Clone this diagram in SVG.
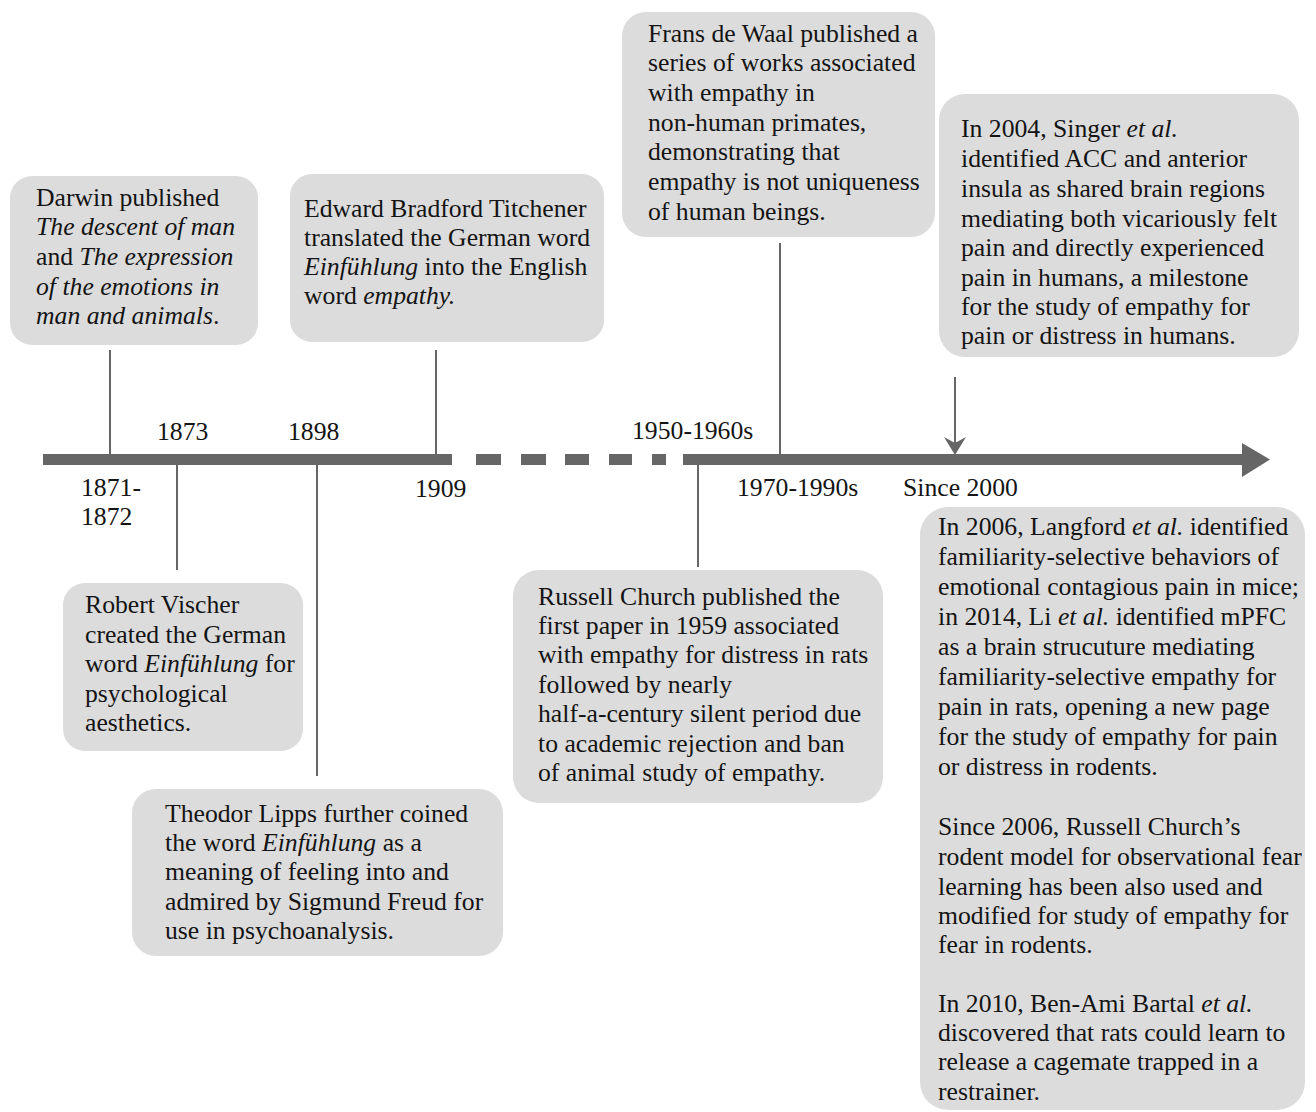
<svg xmlns="http://www.w3.org/2000/svg" width="1316" height="1112" viewBox="0 0 1316 1112">
<style>
.box{fill:#dcdcdc;}
.t{font-family:"Liberation Serif","Times New Roman",serif;font-size:25.7px;fill:#141414;}
.i{font-style:italic;}
.ln{stroke:#666;stroke-width:2;fill:none;}
.bar{fill:#666;}
</style>
<rect width="1316" height="1112" fill="#fff"/>
<g id="connectors">
<rect class="bar" x="43" y="454" width="409" height="11"/>
<rect class="bar" x="476" y="454" width="25" height="11"/>
<rect class="bar" x="521" y="454" width="25" height="11"/>
<rect class="bar" x="565" y="454" width="24" height="11"/>
<rect class="bar" x="609" y="454" width="23" height="11"/>
<rect class="bar" x="652" y="454" width="14" height="11"/>
<rect class="bar" x="683" y="454" width="562" height="11"/>
<polygon class="bar" points="1242,443 1270,459.5 1242,477"/>
<line class="ln" x1="110" y1="350" x2="110" y2="454"/>
<line class="ln" x1="436" y1="350" x2="436" y2="454"/>
<line class="ln" x1="177" y1="465" x2="177" y2="570"/>
<line class="ln" x1="317" y1="465" x2="317" y2="776"/>
<line class="ln" x1="698" y1="465" x2="698" y2="567"/>
<line class="ln" x1="780" y1="243" x2="780" y2="454"/>
<line class="ln" x1="955" y1="377" x2="955" y2="446"/>
<path d="M955,455 L944,437 L955,443 L966,437 Z" fill="#666"/>
</g>
<g id="labels">
<text class="t" x="157" y="440">1873</text>
<text class="t" x="288" y="440">1898</text>
<text class="t" x="632" y="439">1950-1960s</text>
<text class="t" x="81" y="496">1871-</text>
<text class="t" x="81" y="525">1872</text>
<text class="t" x="415" y="497">1909</text>
<text class="t" x="737" y="496">1970-1990s</text>
<text class="t" x="903" y="496">Since 2000</text>
</g>
<g id="darwin">
<rect class="box" x="10" y="176" width="248" height="169" rx="22"/>
<text class="t"><tspan x="36" y="206">Darwin published</tspan><tspan x="36" y="235" class="i">The descent of man</tspan><tspan x="36" y="265">and <tspan class="i">The expression</tspan></tspan><tspan x="36" y="295" class="i">of the emotions in</tspan><tspan x="36" y="324"><tspan class="i">man and animals</tspan>.</tspan></text>
</g>
<g id="titchener">
<rect class="box" x="290" y="174" width="314" height="168" rx="22"/>
<text class="t"><tspan x="304" y="217">Edward Bradford Titchener</tspan><tspan x="304" y="246">translated the German word</tspan><tspan x="304" y="275"><tspan class="i">Einfühlung</tspan> into the English</tspan><tspan x="304" y="304">word <tspan class="i">empathy.</tspan></tspan></text>
</g>
<g id="frans">
<rect class="box" x="622" y="12" width="313" height="225" rx="24"/>
<text class="t"><tspan x="648" y="42">Frans de Waal published a</tspan><tspan x="648" y="71">series of works associated</tspan><tspan x="648" y="101">with empathy in</tspan><tspan x="648" y="131">non-human primates,</tspan><tspan x="648" y="160">demonstrating that</tspan><tspan x="648" y="190">empathy is not uniqueness</tspan><tspan x="648" y="220">of human beings.</tspan></text>
</g>
<g id="singer">
<rect class="box" x="939" y="94" width="360" height="263" rx="26"/>
<text class="t"><tspan x="961" y="137">In 2004, Singer <tspan class="i">et al.</tspan></tspan><tspan x="961" y="167">identified ACC and anterior</tspan><tspan x="961" y="197">insula as shared brain regions</tspan><tspan x="961" y="227">mediating both vicariously felt</tspan><tspan x="961" y="256">pain and directly experienced</tspan><tspan x="961" y="286">pain in humans, a milestone</tspan><tspan x="961" y="315">for the study of empathy for</tspan><tspan x="961" y="344">pain or distress in humans.</tspan></text>
</g>
<g id="vischer">
<rect class="box" x="63" y="583" width="240" height="168" rx="22"/>
<text class="t"><tspan x="85" y="613">Robert Vischer</tspan><tspan x="85" y="643">created the German</tspan><tspan x="85" y="672">word <tspan class="i">Einfühlung</tspan> for</tspan><tspan x="85" y="702">psychological</tspan><tspan x="85" y="731">aesthetics.</tspan></text>
</g>
<g id="lipps">
<rect class="box" x="132" y="789" width="371" height="167" rx="24"/>
<text class="t"><tspan x="165" y="822">Theodor Lipps further coined</tspan><tspan x="165" y="851">the word <tspan class="i">Einfühlung</tspan> as a</tspan><tspan x="165" y="880">meaning of feeling into and</tspan><tspan x="165" y="910">admired by Sigmund Freud for</tspan><tspan x="165" y="939">use in psychoanalysis.</tspan></text>
</g>
<g id="russell">
<rect class="box" x="513" y="570" width="370" height="233" rx="26"/>
<text class="t"><tspan x="538" y="605">Russell Church published the</tspan><tspan x="538" y="634">first paper in 1959 associated</tspan><tspan x="538" y="663">with empathy for distress in rats</tspan><tspan x="538" y="693">followed by nearly</tspan><tspan x="538" y="722">half-a-century silent period due</tspan><tspan x="538" y="752">to academic rejection and ban</tspan><tspan x="538" y="781">of animal study of empathy.</tspan></text>
</g>
<g id="rodents">
<rect class="box" x="920" y="507" width="385" height="603" rx="28"/>
<text class="t"><tspan x="938" y="535">In 2006, Langford <tspan class="i">et al.</tspan> identified</tspan><tspan x="938" y="565">familiarity-selective behaviors of</tspan><tspan x="938" y="595">emotional contagious pain in mice;</tspan><tspan x="938" y="625">in 2014, Li <tspan class="i">et al.</tspan> identified mPFC</tspan><tspan x="938" y="655">as a brain strucuture mediating</tspan><tspan x="938" y="685">familiarity-selective empathy for</tspan><tspan x="938" y="715">pain in rats, opening a new page</tspan><tspan x="938" y="745">for the study of empathy for pain</tspan><tspan x="938" y="775">or distress in rodents.</tspan><tspan x="938" y="835">Since 2006, Russell Church’s</tspan><tspan x="938" y="865">rodent model for observational fear</tspan><tspan x="938" y="895">learning has been also used and</tspan><tspan x="938" y="924">modified for study of empathy for</tspan><tspan x="938" y="953">fear in rodents.</tspan><tspan x="938" y="1012">In 2010, Ben-Ami Bartal <tspan class="i">et al.</tspan></tspan><tspan x="938" y="1041">discovered that rats could learn to</tspan><tspan x="938" y="1070">release a cagemate trapped in a</tspan><tspan x="938" y="1100">restrainer.</tspan></text>
</g>
</svg>
